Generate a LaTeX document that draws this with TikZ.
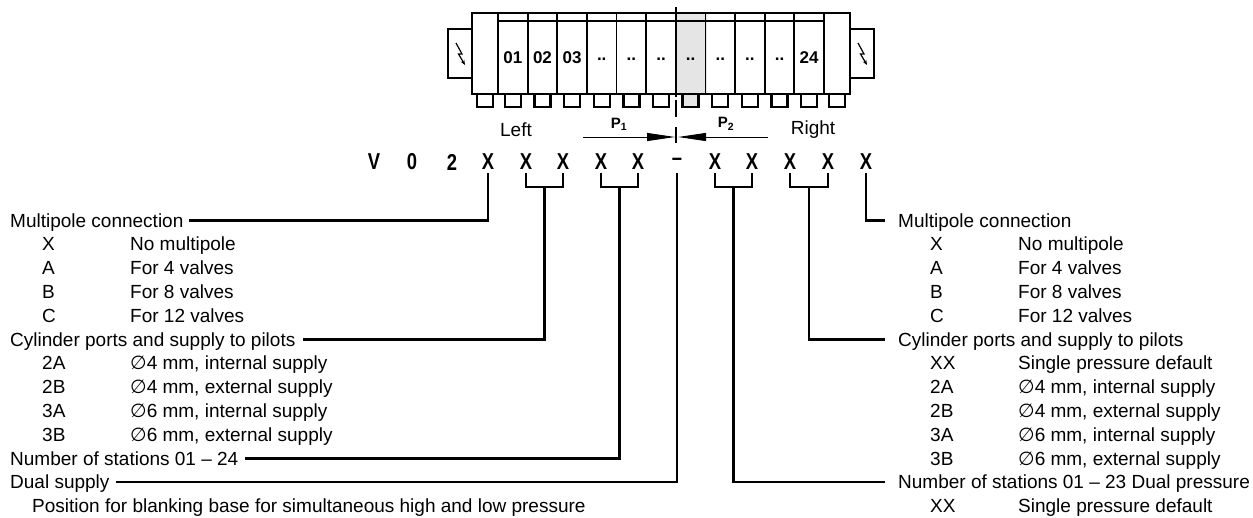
\documentclass[tikz,border=0pt]{standalone}
\usepackage{fontspec}
\usepackage{graphicx}
\setmainfont{Liberation Sans}
\newfontfamily\djv{DejaVu Sans}
\usetikzlibrary{calc,arrows.meta}
\newcommand\cxx[1]{\scalebox{0.8}[1]{#1}}
\newcommand\dia{{\djv ∅}}
\begin{document}
\begin{tikzpicture}[x=1pt,y=-1pt,
  txt/.style={anchor=base west,inner sep=0pt,font=\fontsize{19}{22}\selectfont},
  codech/.style={inner sep=0pt,font=\fontsize{23}{24}\selectfont\bfseries},
  lab/.style={inner sep=0pt,font=\fontsize{19}{22}\selectfont},
  plab/.style={inner sep=0pt,font=\fontsize{15}{17}\selectfont\bfseries},
  modtxt/.style={inner sep=0pt,font=\fontsize{17}{19}\selectfont\bfseries},
  conn/.style={line width=2.2pt},
  outline/.style={line width=2.4pt},
  sepline/.style={line width=1.8pt},
  parrow/.style={line width=1pt,-{Triangle[length=28pt,width=8pt]}}]
\useasboundingbox (0,0) rectangle (1253,517);

% ---------- manifold ----------
\fill[gray!20] (677.3,13) rectangle (706.9,94);
\fill[gray!20] (684.1,94) rectangle (700.1,107);
\draw[outline] (472,13) rectangle (850,94);
\draw[outline] (448,29) rectangle (472,78);
\draw[outline] (850,29) rectangle (874,78);
\foreach \k in {0,...,11}
  \draw[sepline] ({498+29.636*\k},13) -- ++(0,81);
\draw[line width=1.2pt] (498,21) -- (824,21);
\draw[outline] (477,94) rectangle (493,107);
\draw[outline] (829,94) rectangle (845,107);
\foreach \k in {0,...,10}
  \draw[outline] ({498+29.636*(\k+0.5)-8},94) rectangle ++(16,13);
\foreach \k/\t in {0/01,1/02,2/03,10/24}
  \node[modtxt] (m\k) at ({498+29.636*(\k+0.5)},58) {\t};
\foreach \k in {3,...,9}
  \node[modtxt] (m\k) at ({498+29.636*(\k+0.5)},59) {..};
\draw[line width=1.2pt,-{Stealth[length=5pt,width=4pt]}] (456,43) -- (462,54) -- (458.5,54) -- (465,65);
\draw[line width=1.2pt,-{Stealth[length=5pt,width=4pt]}] (858,43) -- (864,54) -- (860.5,54) -- (867,65);
\draw[line width=2.5pt,dash pattern=on 22pt off 3pt on 3pt off 3pt] (676,7) -- (676,117);
\draw[line width=2.2pt] (676,127) -- (676,143);

% ---------- labels above code ----------
\node[lab] (lft) at (516,130) {Left};
\node[lab] (rgt) at (813,130) {Right};
\node[plab] (p1) at (619,124) {P\textsubscript{1}};
\node[plab] (p2) at (726,124) {P\textsubscript{2}};
\coordinate (a1s) at (583,137);
\coordinate (a1e) at (675,137);
\coordinate (a2s) at (768,137);
\coordinate (a2e) at (678,137);
\draw[parrow] (a1s) -- (a1e);
\draw[parrow] (a2s) -- (a2e);

% ---------- code ----------
\foreach \t/\x [count=\i] in {V/374,0/412,2/452,X/488,X/526,X/563,X/601,X/638,–/677,X/715,X/752,X/790,X/828,X/866}
  \node[codech] (c\i) at (\x,162) {\cxx{\t}};
\coordinate (tk) at (0,173);
\coordinate (br) at (0,187);

% ---------- left list ----------
\node[txt] (L1) at (10,227) {Multipole connection};
\node[txt] (L2a) at (42,250.8) {X};   \node[txt] (L2b) at (130,250.8) {No multipole};
\node[txt] (L3a) at (42,274.6) {A};   \node[txt] (L3b) at (130,274.6) {For 4 valves};
\node[txt] (L4a) at (42,298.4) {B};   \node[txt] (L4b) at (130,298.4) {For 8 valves};
\node[txt] (L5a) at (42,322.2) {C};   \node[txt] (L5b) at (130,322.2) {For 12 valves};
\node[txt] (L6) at (10,346) {Cylinder ports and supply to pilots};
\node[txt] (L7a) at (42,369.8) {2A};  \node[txt] (L7b) at (130,369.8) {\dia4 mm, internal supply};
\node[txt] (L8a) at (42,393.6) {2B};  \node[txt] (L8b) at (130,393.6) {\dia4 mm, external supply};
\node[txt] (L9a) at (42,417.4) {3A};  \node[txt] (L9b) at (130,417.4) {\dia6 mm, internal supply};
\node[txt] (L10a) at (42,441.2) {3B}; \node[txt] (L10b) at (130,441.2) {\dia6 mm, external supply};
\node[txt] (L11) at (10,465) {Number of stations 01 – 24};
\node[txt] (L12) at (10,488.8) {Dual supply};
\node[txt] (L13) at (32,512.6) {Position for blanking base for simultaneous high and low pressure};

% ---------- right list ----------
\node[txt] (R1) at (898,227) {Multipole connection};
\node[txt] (R2a) at (930,250.8) {X};   \node[txt] (R2b) at (1018,250.8) {No multipole};
\node[txt] (R3a) at (930,274.6) {A};   \node[txt] (R3b) at (1018,274.6) {For 4 valves};
\node[txt] (R4a) at (930,298.4) {B};   \node[txt] (R4b) at (1018,298.4) {For 8 valves};
\node[txt] (R5a) at (930,322.2) {C};   \node[txt] (R5b) at (1018,322.2) {For 12 valves};
\node[txt] (R6) at (898,346) {Cylinder ports and supply to pilots};
\node[txt] (R7a) at (930,369.8) {XX};  \node[txt] (R7b) at (1018,369.8) {Single pressure default};
\node[txt] (R8a) at (930,393.6) {2A};  \node[txt] (R8b) at (1018,393.6) {\dia4 mm, internal supply};
\node[txt] (R9a) at (930,417.4) {2B};  \node[txt] (R9b) at (1018,417.4) {\dia4 mm, external supply};
\node[txt] (R10a) at (930,441.2) {3A}; \node[txt] (R10b) at (1018,441.2) {\dia6 mm, internal supply};
\node[txt] (R11a) at (930,465) {3B};   \node[txt] (R11b) at (1018,465) {\dia6 mm, external supply};
\node[txt] (R12) at (898,488.8) {Number of stations 01 – 23 Dual pressure};
\node[txt] (R13a) at (930,512.6) {XX}; \node[txt] (R13b) at (1018,512.6) {Single pressure default};

% ---------- connector end points ----------
\coordinate (eL1) at ($(L1.base east)+(5,-6.5)$);
\coordinate (eL6) at ($(L6.base east)+(7,-6.5)$);
\coordinate (eL11) at ($(L11.base east)+(6,-6.5)$);
\coordinate (eL12) at ($(L12.base east)+(6,-6.5)$);
\coordinate (eR1) at ($(R1.base west)+(-13,-6.5)$);
\coordinate (eR6) at ($(R6.base west)+(-13,-6.5)$);
\coordinate (eR12) at ($(R12.base west)+(-13,-6.5)$);
\coordinate (m56) at ($(c5)!0.5!(c6)$);
\coordinate (m78) at ($(c7)!0.5!(c8)$);
\coordinate (m1011) at ($(c10)!0.5!(c11)$);
\coordinate (m1213) at ($(c12)!0.5!(c13)$);

% ---------- connectors ----------
\draw[conn] (c4 |- tk) -- (c4 |- eL1) -- (eL1);
\draw[conn] (c5 |- tk) -- (c5 |- br) -- (c6 |- br) -- (c6 |- tk);
\draw[conn] (m56 |- br) -- (m56 |- eL6) -- (eL6);
\draw[conn] (c7 |- tk) -- (c7 |- br) -- (c8 |- br) -- (c8 |- tk);
\draw[conn] (m78 |- br) -- (m78 |- eL11) -- (eL11);
\draw[conn] (c9 |- tk) -- (c9 |- eL12) -- (eL12);
\draw[conn] (c10 |- tk) -- (c10 |- br) -- (c11 |- br) -- (c11 |- tk);
\draw[conn] (m1011 |- br) -- (m1011 |- eR12) -- (eR12);
\draw[conn] (c12 |- tk) -- (c12 |- br) -- (c13 |- br) -- (c13 |- tk);
\draw[conn] (m1213 |- br) -- (m1213 |- eR6) -- (eR6);
\draw[conn] (c14 |- tk) -- (c14 |- eR1) -- (eR1);
\end{tikzpicture}
\end{document}
